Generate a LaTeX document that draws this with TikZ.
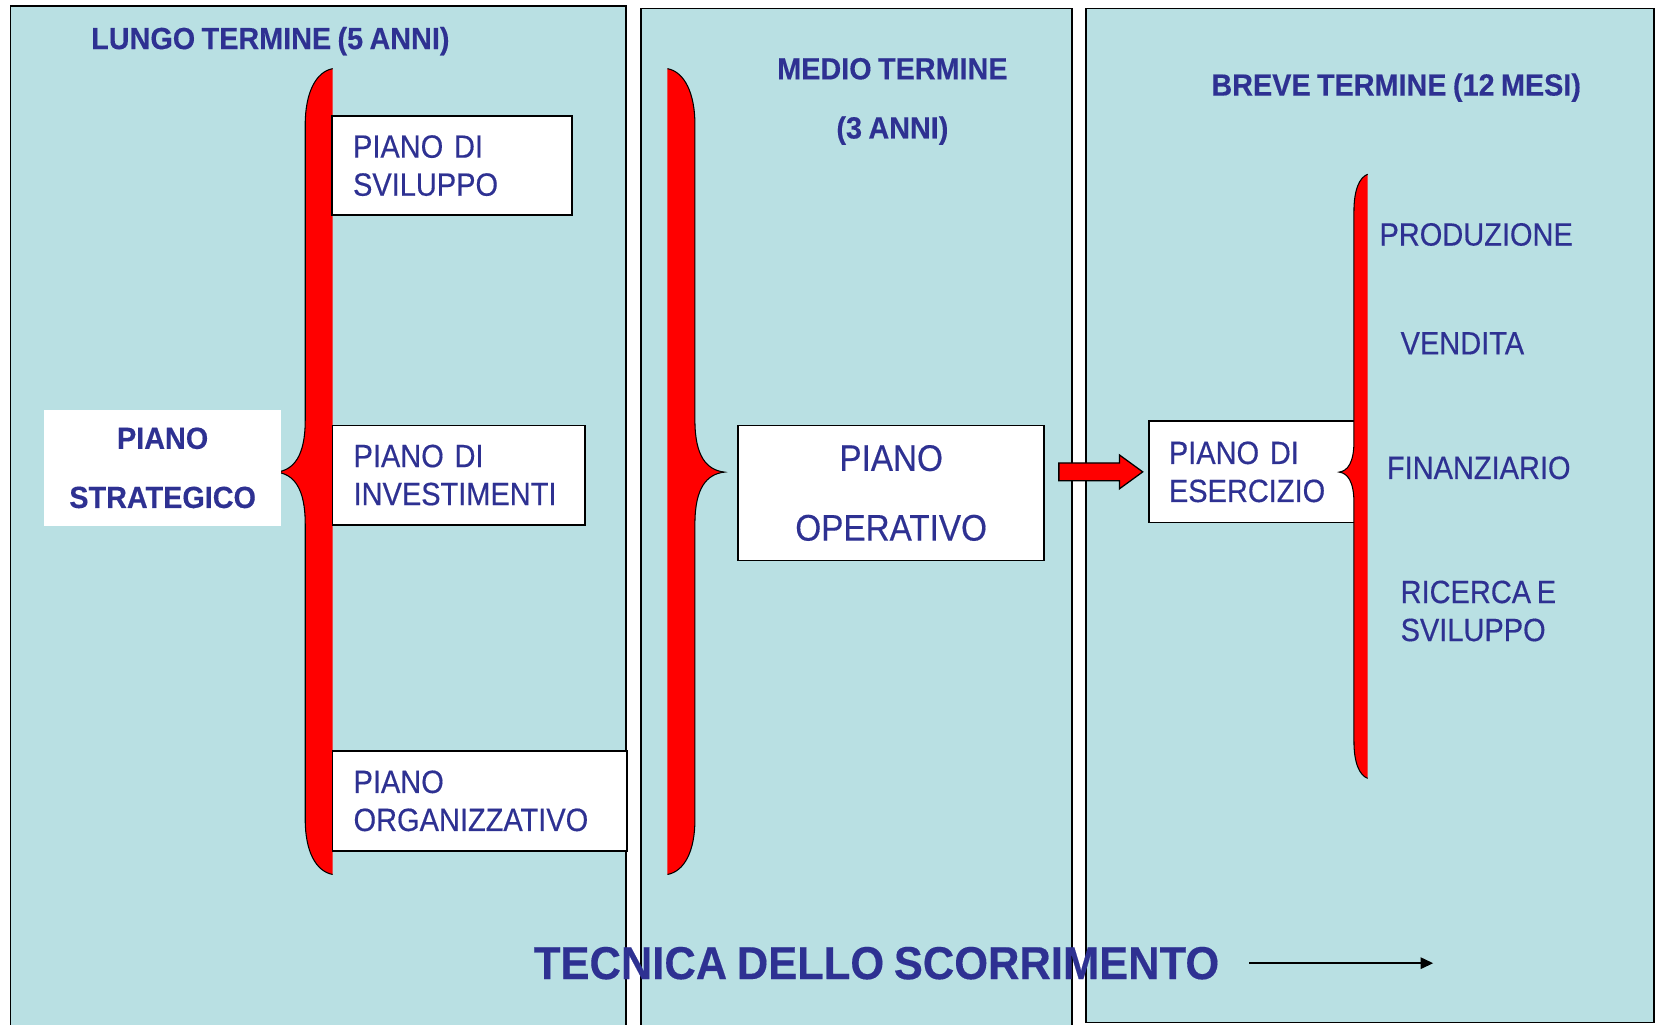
\documentclass[tikz,border=0pt]{standalone}
\usepackage{fontspec}
\setmainfont{Liberation Sans}
\newfontfamily\regf[FakeStretch=0.9,FakeBold=0.4,WordSpace=0.7]{Liberation Sans}
\newfontfamily\boldf[FakeStretch=0.94,FakeBold=0.3,WordSpace=0.8]{Liberation Sans}
\usetikzlibrary{arrows.meta,calc}
\definecolor{panelblue}{RGB}{185,224,227}
\definecolor{textblue}{RGB}{46,49,146}
\definecolor{bracered}{RGB}{255,0,0}
\begin{document}
\begin{tikzpicture}[x=1pt,y=-1pt,
  panel/.style={draw=black,line width=1.6pt,fill=panelblue},
  planbox/.style={draw=black,line width=1.6pt,fill=white,anchor=north west,
    inner xsep=20pt,inner ysep=0pt,align=left,text=textblue,
    font=\regf\fontsize{30.5}{36}\selectfont},
  listtext/.style={text=textblue,inner sep=0pt,anchor=west,align=left,
    font=\regf\fontsize{30.5}{36}\selectfont},
  title/.style={text=textblue,inner sep=0pt,align=center,
    font=\boldf\bfseries\fontsize{29}{56}\selectfont},
  braceedge/.style={draw=black,line width=1pt},
]
\useasboundingbox (0,0) rectangle (1568,970);
\clip (0,0) rectangle (1568,970);

% panels
\path[panel] (10,6) rectangle (593,990);
\path[panel] (607,8) rectangle (1015,990);
\path[panel] (1028,8) rectangle (1566,968);

% titles
\node[title] (lt) at (256,39) {LUNGO TERMINE (5 ANNI)};
\node[title] (mt) at (845,96) {MEDIO TERMINE\\(3 ANNI)};
\node[title] (bt) at (1322,83) {BREVE TERMINE (12 MESI)};

% left brace
\fill[bracered] (315,65) .. controls (299,68) and (289,88) .. (289,118) -- (289,398)
  .. controls (289,432) and (278,445) .. (262,447)
  .. controls (278,449) and (289,462) .. (289,496) -- (289,776)
  .. controls (289,806) and (299,825) .. (315,828) -- cycle;
\draw[braceedge] (315,65) .. controls (299,68) and (289,88) .. (289,118) -- (289,398)
  .. controls (289,432) and (278,445) .. (262,447)
  .. controls (278,449) and (289,462) .. (289,496) -- (289,776)
  .. controls (289,806) and (299,825) .. (315,828);

% middle brace
\fill[bracered] (632,65) .. controls (648,68) and (658,88) .. (658,118) -- (658,398)
  .. controls (658,432) and (669,445) .. (686,447)
  .. controls (669,449) and (658,462) .. (658,496) -- (658,776)
  .. controls (658,806) and (648,825) .. (632,828) -- cycle;
\draw[braceedge] (632,65) .. controls (648,68) and (658,88) .. (658,118) -- (658,398)
  .. controls (658,432) and (669,445) .. (686,447)
  .. controls (669,449) and (658,462) .. (658,496) -- (658,776)
  .. controls (658,806) and (648,825) .. (632,828);

% strategic plan
\node[fill=white,minimum width=224pt,minimum height=110pt,inner sep=0pt,
  text=textblue,align=center,font=\boldf\bfseries\fontsize{29}{56}\selectfont]
  (ps) at (154,443) {PIANO\\STRATEGICO};

% long-term boxes
\node[planbox,text width=187pt,minimum height=94pt] (sv) at (313.5,109) {PIANO DI\\SVILUPPO};
\node[planbox,text width=199pt,minimum height=94pt] (inv) at (314,402) {PIANO DI\\INVESTIMENTI};
\node[planbox,text width=239pt,minimum height=95pt] (org) at (314,710) {PIANO\\ORGANIZZATIVO};

% operating plan
\node[planbox,align=center,text width=250pt,minimum height=128pt,
  font=\regf\fontsize{35}{66}\selectfont] (op) at (698,402) {PIANO\\OPERATIVO};

% annual plan
\node[planbox,text width=163pt,minimum height=96pt,inner xsep=19pt] (es) at (1087,398) {PIANO DI\\ESERCIZIO};

% right brace
\fill[bracered] (1295,165) .. controls (1287,168) and (1282,180) .. (1282,200) -- (1282,418)
  .. controls (1282,438) and (1276,446) .. (1268,447)
  .. controls (1276,448) and (1282,456) .. (1282,476) -- (1282,702)
  .. controls (1282,722) and (1287,734) .. (1295,737) -- cycle;
\draw[braceedge] (1295,165) .. controls (1287,168) and (1282,180) .. (1282,200) -- (1282,418)
  .. controls (1282,438) and (1276,446) .. (1268,447)
  .. controls (1276,448) and (1282,456) .. (1282,476) -- (1282,702)
  .. controls (1282,722) and (1287,734) .. (1295,737);

% red block arrow from operating plan to annual plan
\coordinate (tip) at ($(es.west)+(-5,0)$);
\coordinate (tail) at ($(op.east |- es.west)+(13,0)$);
\draw[fill=bracered,draw=black,line width=1.2pt,line join=miter]
  ($(tail)+(0,-8.5)$) -- ($(tip)+(-22,-8.5)$) -- ($(tip)+(-22,-16)$) -- (tip)
  -- ($(tip)+(-22,16)$) -- ($(tip)+(-22,8.5)$) -- ($(tail)+(0,8.5)$) -- cycle;

% list of functions
\node[listtext] (prod) at (1306,222) {PRODUZIONE};
\node[listtext] (vend) at (1326,325) {VENDITA};
\node[listtext] (fin) at (1313,443) {FINANZIARIO};
\node[listtext] (ric) at (1326,578.5) {RICERCA E\\SVILUPPO};

% bottom caption
\node[text=textblue,inner sep=0pt,font=\boldf\bfseries\fontsize{43.8}{50}\selectfont]
  (tec) at (830,912) {TECNICA DELLO SCORRIMENTO};
\coordinate (arrend) at (1357,912);
\draw[line width=1.4pt,-{Triangle[length=12pt,width=11pt]}] ($(tec.east)+(28,0)$) -- (arrend);
\end{tikzpicture}
\end{document}
